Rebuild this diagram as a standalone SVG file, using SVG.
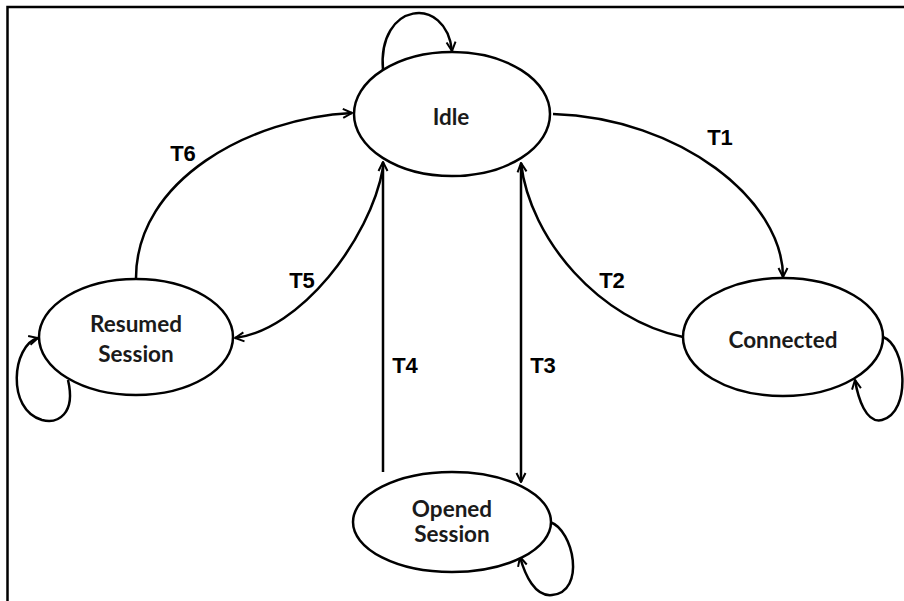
<svg xmlns="http://www.w3.org/2000/svg" width="904" height="601" viewBox="0 0 904 601">
<defs>
<marker id="arr" markerUnits="userSpaceOnUse" viewBox="0 0 12 12" refX="11" refY="6" markerWidth="12" markerHeight="12" orient="auto">
<path d="M2,1.5 L11,6 L2,10.5" fill="none" stroke="#000" stroke-width="2" stroke-linejoin="miter"/>
</marker>
</defs>
<style>
.node ellipse{fill:#fff;stroke:#000;stroke-width:2.5}
.node text{font-family:Lato,"Open Sans",sans-serif;font-weight:bold;font-size:22.5px;fill:#1a1a1a;text-anchor:middle}
.edge{fill:none;stroke:#000;stroke-width:2.5}
.lbl{font-family:"Liberation Sans",Arial,sans-serif;font-weight:bold;font-size:22px;fill:#000;text-anchor:middle}
</style>
<rect width="904" height="601" fill="#fff"/>
<path d="M7.5,601 V7 H904" fill="none" stroke="#000" stroke-width="2.5"/>
<g id="connectors">
<path class="edge" d="M383,70 C377,2 446,-6 452,51" marker-end="url(#arr)"/>
<path class="edge" d="M553,114 C680,118 783,200 783,277" marker-end="url(#arr)"/>
<path class="edge" d="M683,337 C600,320 530,240 521,163" marker-end="url(#arr)"/>
<path class="edge" d="M521,165 V482" marker-end="url(#arr)"/>
<path class="edge" d="M383,472 V162" marker-end="url(#arr)"/>
<path class="edge" d="M383,168 C370,240 300,330 235,338" marker-end="url(#arr)"/>
<path class="edge" d="M136,278 C136,180 250,118 352,113" marker-end="url(#arr)"/>
<path class="edge" d="M883,337 C906,345 912,412 882,420 C866,424 858,398 855,380" marker-end="url(#arr)"/>
<path class="edge" d="M550,522 C574,530 586,592 552,595 C535,597 525,575 520,557" marker-end="url(#arr)"/>
<path class="edge" d="M68,380 C76,414 58,424 42,420 C6,410 12,345 38,338" marker-end="url(#arr)"/>
</g>
<g id="labels">
<text class="lbl" x="720" y="145">T1</text>
<text class="lbl" x="612" y="288">T2</text>
<text class="lbl" x="543" y="373">T3</text>
<text class="lbl" x="405" y="373">T4</text>
<text class="lbl" x="302" y="288">T5</text>
<text class="lbl" x="183" y="161">T6</text>
</g>
<g id="idle" class="node">
<ellipse cx="452" cy="114" rx="98" ry="62"/>
<text x="451" y="125">Idle</text>
</g>
<g id="resumed" class="node">
<ellipse cx="136" cy="337" rx="97" ry="58"/>
<text x="136" y="332">Resumed</text>
<text x="136" y="362">Session</text>
</g>
<g id="connected" class="node">
<ellipse cx="783" cy="337" rx="100" ry="59"/>
<text x="783" y="348">Connected</text>
</g>
<g id="opened" class="node">
<ellipse cx="452" cy="522" rx="99" ry="50"/>
<text x="452" y="517">Opened</text>
<text x="452" y="542">Session</text>
</g>
</svg>
